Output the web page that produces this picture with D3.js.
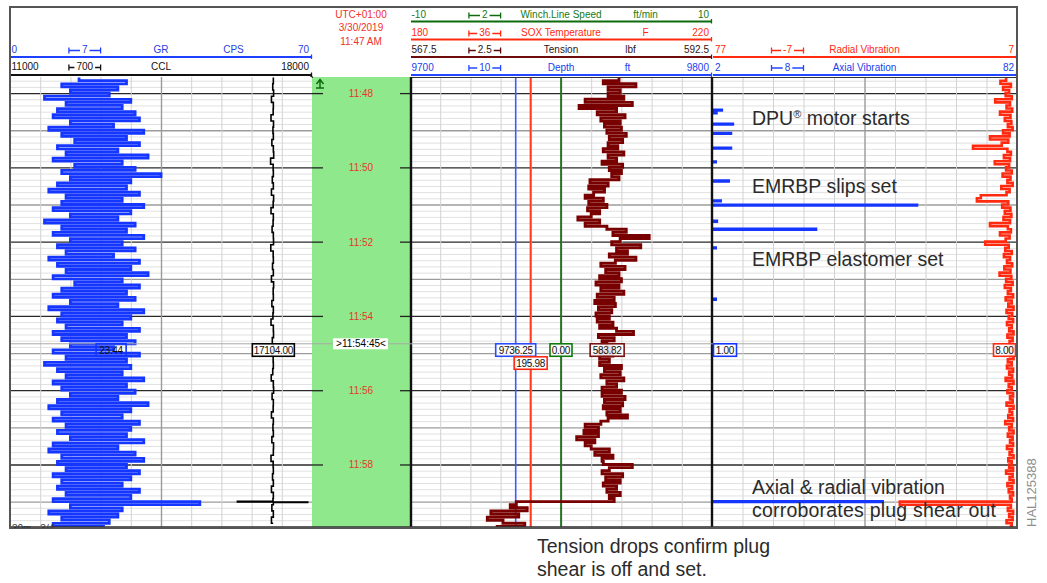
<!DOCTYPE html>
<html><head><meta charset="utf-8">
<script src="https://cdn.jsdelivr.net/npm/d3@7"></script>
<style>
body{margin:0;background:#fff;}
svg text{font-family:"Liberation Sans",Arial,sans-serif;}
</style></head><body>
<svg id="c" width="1047" height="583"></svg>
<script>
// ================= DATA =================
const LOG_START = [2019, 2, 30, 11, 47, 0];    // 3/30/2019 11:47:00
const VIEW_SECONDS = [34, 761];                // visible window (s after 11:47:00)
const SAMPLE_START_S = 35, SAMPLE_STEP_S = 5;  // GR / tension / radial sampling

const CURVE_NAMES  = ["GR","CCL","Winch.Line Speed","SOX Temperature","Tension","Depth","Radial Vibration","Axial Vibration"];
const CURVE_UNITS  = ["CPS","","ft/min","F","lbf","ft","",""];
const CURVE_LEFT   = ["0","11000","-10","180","567.5","9700","77","2"];
const CURVE_RIGHT  = ["70","18000","10","220","592.5","9800","7","82"];
const CURVE_DIV    = ["7","700","2","36","2.5","10","-7","8"];
const HEADER_TIME  = ["UTC+01:00","3/30/2019","11:47 AM"];

const GR_CPS = [
16,27,12,25,14,23,8,28,13,26,11,29,
10,30,14,24,9,31,12,27,15,30,11,25,
13,32,10,26,15,29,12,35,14,28,11,27,
9,30,13,26,12,31,10,28,14,25,8,29,
12,27,10,31,14,26,11,29,13,24,9,30,
11,28,13,32,10,26,15,30,12,27,10,29,
14,25,9,31,12,28,11,26,13,30,10,27,
12,29,14,24,10,30,13,27,8,28,11,26,
13,31,10,27,12,29,14,25,11,32,9,28,
12,26,10,30,13,28,11,27,14,31,10,25,
9,29,12,31,11,27,13,30,10,28,12,26,
11,30,13,28,10,44,14,26,9,25,12,23,
10,22];

const TENSION_LBF = [
584.8,583.5,586.2,583.9,584.9, 583.9,585.2,
582.0,585.9,581.5,584.6,583.0, 585.3,583.3,584.9,583.6,585.0,
583.8,585.4,584.0,585.1,583.9,584.7, 583.5,585.2,583.9,584.6,583.4,585.1,
584.0,585.0,584.2,584.8, 582.4,583.9,582.3,583.6,582.7,
582.0,583.5,582.3,583.8,582.2,583.2,582.5, 581.4,583.2,582.0,
583.8,585.4,584.3,587.3,584.9, 584.2,586.6,584.6,585.5,584.0,586.2,584.5,
583.3,585.3,583.7,584.8,583.2,585.0, 582.9,584.8,583.3,585.2,583.0,584.4,
582.8,584.5,583.1,584.2,582.9,584.0, 583.0,584.3,583.2,584.6,586.0,
583.1,584.4,583.4,583.8,584.3, 583.0,584.3,583.2,584.0,
583.2,585.0,583.6,584.9,583.3,585.2,583.8,584.6,583.4,585.0,
583.4,585.3,583.6,585.1,583.5,584.9,583.8,585.5,583.9,
583.3,582.0,583.1, 581.9,583.1,581.3,582.8,582.0,
582.5,584.0,582.8,584.3,583.4, 583.5,585.9,584.0,
583.4,585.1,583.7,584.9,583.5,584.6, 583.8,584.9,584.0,584.4,
576.3,
575.8,577.2,574.2,576.5,573.9,575.2,577.0,574.6];

const RADIAL_VIB = [
9.5,10.8,8.4,10.2,8.8,9.6,8.2,12.0,8.6,9.4,
8.1,10.9,8.5,9.8,8.3,9.1,8.0,10.2,8.7,13.2,
9.0,10.5,17.1,9.2,8.4,10.0,8.6,12.1,8.8,9.5,
8.2,10.3,8.5,9.2,8.0,10.6,8.7,9.4,15.3,16.2,
9.0,10.4,8.5,9.8,8.3,10.1,8.6,13.2,9.1,8.4,
10.9,8.7,9.6,14.3,8.9,9.7,8.2,10.0,8.6,9.3,
8.1,9.9,8.5,11.0,8.3,9.5,8.0,9.8,8.4,9.1,
7.9,9.6,8.2,9.0,7.8,9.4,8.1,8.9,7.9,9.3,
8.2,8.8,7.8,9.2,8.0,8.7,8.0,9.0,7.9,8.6,
7.8,9.1,8.2,9.3,7.9,8.8,8.1,9.6,7.8,8.9,
8.2,9.2,7.9,8.6,8.0,9.4,7.8,8.7,8.1,9.0,
7.9,9.7,8.2,8.8,7.8,9.1,8.0,8.6,7.9,9.3,
8.1,8.7,7.8,9.0,8.2,8.8,7.9,9.5,8.0,8.7,
7.8,9.2,8.1,8.9,7.9,8.6,8.2,33.9,8.4,9.1,
7.9,8.8,8.0,9.4,8.2,8.7];

const CCL_STEP_S = 10;   // CCL sampled every 10 s from 35 s
const CCL_VALUES = [
17104,17090,17110,17060,17104,17100,17050,17108,17095,17104,
17070,17104,17112,17040,17100,17104,17080,17104,17060,17110,
17100,17050,17104,17098,17075,17104,17108,17045,17100,17104,
17085,17104,17060,17110,17100,17104,17070,17104,17095,17050,
17104,17108,17080,17104,17065,17100,17104,17090,17055,17104,
17110,17075,17104,17100,17060,17104,17095,17104,17070,17108,
17104,17050,17100,17104,17085,17104,17060,17104,17095,17070,
17104,17060,17100];
const CCL_SPIKE = [[719.5,16270],[720.5,17900],[721.5,17104]];

const AXIAL_BASE = 1.0;
const AXIAL_EVENTS = [[87.5,4.6],[92,3.2],[110,7.5],[125,7.0],[149,7.0],[171,3.0],[202,6.4],
  [234,4.3],[241,55.8],[267,3.3],[280,29.3],[310,3.0],[393,3.0],[720,46.8]];

const DEPTH_FT = 9735.0, SOX_TEMP_F = 195.98, WINCH_SPEED_FTMIN = 0.0;

const READOUT_S = 465;  // 11:54:45
const READOUT_TEXT = ["23.44","17104.00","0.00","195.98","583.82","9736.25","8.00","1.00"];
const READOUT_VAL  = [23.44, 17104.0, 0.0, 195.98, 583.82, DEPTH_FT, 8.0, 1.0];

const NOTES = ["DPU","motor starts","EMRBP slips set","EMRBP elastomer set","Axial & radial vibration","corroborates plug shear out"];
const CAPTION = ["Tension drops confirm plug","shear is off and set."];
const FIG_ID = "HAL125388";

// ================= LAYOUT =================
const svg = d3.select("#c");
const TOP = 77, BOT = 527;
const TR = [{x0:10,x1:312},{x0:312,x1:410},{x0:410,x1:712},{x0:712,x1:1017}];
const base = new Date(...LOG_START);
const T = s => new Date(base.getTime() + s*1000);
const y = d3.scaleTime().domain(VIEW_SECONDS.map(T)).range([TOP, BOT]);

const dom = i => [+CURVE_LEFT[i], +CURVE_RIGHT[i]];
const xGR = d3.scaleLinear(dom(0), [TR[0].x0, TR[0].x1]);
const xCCL = d3.scaleLinear(dom(1), [TR[0].x0, TR[0].x1]);
const xSpd = d3.scaleLinear(dom(2), [TR[2].x0, TR[2].x1]);
const xTmp = d3.scaleLinear(dom(3), [TR[2].x0, TR[2].x1]);
const xTen = d3.scaleLinear(dom(4), [TR[2].x0, TR[2].x1]);
const xDep = d3.scaleLinear(dom(5), [TR[2].x0, TR[2].x1]);
const xRad = d3.scaleLinear(dom(6), [TR[3].x0, TR[3].x1]);
const xAx  = d3.scaleLinear(dom(7), [TR[3].x0, TR[3].x1]);
const SCALES = [xGR,xCCL,xSpd,xTmp,xTen,xDep,xRad,xAx];

// clip paths
const defs = svg.append("defs");
[[0,TR[0].x0,TR[0].x1],[2,TR[2].x0,TR[2].x1],[3,TR[3].x0+1,TR[3].x1-1]].forEach(([k,a,b])=>{
  defs.append("clipPath").attr("id","clip"+k).append("rect")
    .attr("x",a).attr("y",TOP).attr("width",b-a).attr("height",BOT-TOP);
});
defs.append("clipPath").attr("id","clipAll").append("rect").attr("x",0).attr("y",0).attr("width",1047).attr("height",528);

// ---------- grids ----------
[0,2,3].forEach(k=>{
  const t = TR[k], w = t.x1 - t.x0;
  const g = svg.append("g").attr("transform",`translate(${t.x0},0)`);
  g.call(d3.axisLeft(y).ticks(d3.timeSecond.every(10)).tickSize(-w).tickFormat(""));
  g.select(".domain").remove();
  g.selectAll(".tick line").each(function(d){
    const m = d.getMinutes(), s = d.getSeconds();
    const sel = d3.select(this);
    if (s===0 && m%2===0) sel.attr("stroke","#2a2a2a").attr("stroke-width",1.3);
    else if (s===0) sel.attr("stroke","#9c9c9c").attr("stroke-width",1.3);
    else sel.attr("stroke","#e1e1e1").attr("stroke-width",1);
  });
  const xs = d3.scaleLinear([0,10],[t.x0,t.x1]);
  const gv = svg.append("g").attr("transform",`translate(0,${TOP})`);
  gv.call(d3.axisTop(xs).tickValues(d3.range(1,10)).tickSize(-(BOT-TOP)).tickFormat(""));
  gv.select(".domain").remove();
  gv.selectAll(".tick line").attr("stroke",d=>d===5?"#9a9a9a":"#d2d2d2").attr("stroke-width",d=>d===5?1.4:1);
});

// ---------- time track ----------
svg.append("rect").attr("x",TR[1].x0).attr("y",TOP).attr("width",TR[1].x1-TR[1].x0).attr("height",BOT-TOP).attr("fill","#8fe98c");
const gt = svg.append("g").attr("transform",`translate(${TR[1].x0},0)`);
gt.call(d3.axisRight(y).ticks(d3.timeMinute.every(2)).tickFormat(d3.timeFormat("%H:%M")).tickSize(11));
gt.select(".domain").remove();
gt.selectAll(".tick line").attr("stroke","#222").attr("stroke-width",1.3);
gt.selectAll(".tick text").attr("x",(TR[1].x1-TR[1].x0)/2).attr("dy","0.35em").attr("text-anchor","middle")
  .attr("fill","#e8352a").attr("font-size",10).attr("font-family","Liberation Sans, Arial");
const gt2 = svg.append("g").attr("transform",`translate(${TR[1].x1},0)`);
gt2.call(d3.axisLeft(y).ticks(d3.timeMinute.every(2)).tickFormat("").tickSize(10));
gt2.select(".domain").remove();
gt2.selectAll(".tick line").attr("stroke","#222").attr("stroke-width",1.3);

// ---------- curves ----------
const sampled = vals => vals.map((v,i)=>({t:T(SAMPLE_START_S + i*SAMPLE_STEP_S), v}));
function curve(data, xs, color, width, clip, c){
  svg.append("path").datum(data).attr("clip-path",`url(#clip${clip})`)
    .attr("fill","none").attr("stroke",color).attr("stroke-width",width).attr("stroke-linejoin","miter")
    .attr("d", d3.line().x(d=>xs(d.v)).y(d=>y(d.t)).curve(c||d3.curveStepBefore));
}
const constant = v => [{t:T(VIEW_SECONDS[0]),v},{t:T(VIEW_SECONDS[1]),v}];

// track 1
curve(sampled(GR_CPS), xGR, "#1436ff", 2.8, 0);
const cclData = CCL_VALUES.map((v,i)=>[SAMPLE_START_S + i*CCL_STEP_S, v]).concat(CCL_SPIKE)
  .sort((a,b)=>a[0]-b[0]).map(([s,v])=>({t:T(s),v}));
curve(cclData, xCCL, "#000", 1.6, 0);

// track 3
curve(constant(DEPTH_FT), xDep, "#3a5cff", 1.6, 2, d3.curveLinear);
curve(constant(SOX_TEMP_F), xTmp, "#ff3a1a", 2, 2, d3.curveLinear);
curve(constant(WINCH_SPEED_FTMIN), xSpd, "#0b6b0b", 1.6, 2, d3.curveLinear);
curve(sampled(TENSION_LBF), xTen, "#780000", 2.9, 2);

// track 4
curve(sampled(RADIAL_VIB), xRad, "#ff2a10", 2.6, 3);
const axData = [[VIEW_SECONDS[0],AXIAL_BASE]];
AXIAL_EVENTS.forEach(([s,v])=>{ axData.push([s-0.75,v]); axData.push([s+0.75,AXIAL_BASE]); });
axData.push([VIEW_SECONDS[1],AXIAL_BASE]);
curve(axData.map(([s,v])=>({t:T(s),v})), xAx, "#1436ff", 2.4, 3);

// ---------- borders ----------
svg.append("line").attr("x1",TR[2].x0).attr("x2",TR[3].x1).attr("y1",TOP+0.5).attr("y2",TOP+0.5).attr("stroke","#333").attr("stroke-width",1);
[TR[2].x0+1, TR[3].x0].forEach(x=>svg.append("line").attr("x1",x).attr("x2",x).attr("y1",TOP).attr("y2",BOT+1)
  .attr("stroke","#111").attr("stroke-width",2.4));
svg.append("line").attr("x1",TR[0].x0).attr("x2",TR[3].x1).attr("y1",BOT).attr("y2",BOT).attr("stroke","#333").attr("stroke-width",1.5);

// ---------- readout ----------
const yr = y(T(READOUT_S));
svg.append("line").attr("x1",TR[0].x0).attr("x2",TR[3].x1).attr("y1",yr).attr("y2",yr).attr("stroke","#a9a9a9").attr("stroke-width",1);
const tb = svg.append("g");
tb.append("rect").attr("x",333).attr("y",yr-5.5).attr("width",55).attr("height",11).attr("fill","#fff");
tb.append("text").attr("x",(TR[1].x0+TR[1].x1)/2).attr("y",yr+3.5).attr("text-anchor","middle").attr("font-size",10).attr("fill","#000")
  .text(">" + d3.timeFormat("%H:%M:%S")(T(READOUT_S)) + "<");

const RB = [ // curve index, color, box width, y offset, track
  [0,"#1436ff",30,0,0],[1,"#000",42,0,0],[5,"#2a4cff",40,0,2],[3,"#ff2a10",33,13,2],
  [2,"#0b7a0b",22,0,2],[4,"#7a1010",34,0,2],[7,"#1436ff",23,0,3],[6,"#ff2a10",22,0,3]];
RB.forEach(([i,col,w,dy,k])=>{
  let cx = SCALES[i](READOUT_VAL[i]);
  cx = Math.max(TR[k].x0 + 1.5 + w/2, Math.min(TR[k].x1 - 1.5 - w/2, cx));
  const g = svg.append("g");
  g.append("rect").attr("x",cx-w/2).attr("y",yr+dy).attr("width",w).attr("height",12.5)
    .attr("fill","#fff").attr("fill-opacity",i===0?0:0.85).attr("stroke",col).attr("stroke-width",1.6);
  g.append("text").attr("x",cx).attr("y",yr+dy+10).attr("text-anchor","middle").attr("font-size",10)
    .attr("fill","#111").attr("letter-spacing",-0.3).text(READOUT_TEXT[i]);
});

// ---------- headers ----------
const ROWS = [
  {i:0,k:0,base:53,line:57,col:"#1f40ff",txt:"#2a3fe0",u:0.74},
  {i:1,k:0,base:70,line:75,col:"#111",txt:"#111",u:0},
  {i:2,k:2,base:18,line:21.5,col:"#0c6b0c",txt:"#167a16",u:0.78},
  {i:3,k:2,base:36,line:39.5,col:"#ff2a10",txt:"#ff2a10",u:0.78},
  {i:4,k:2,base:53,line:57,col:"#6e0b0b",txt:"#2e1515",u:0.73},
  {i:5,k:2,base:70.5,line:75,col:"#2448ff",txt:"#2040ee",u:0.72},
  {i:6,k:3,base:53,line:57,col:"#ff2a10",txt:"#ff2a10",u:0},
  {i:7,k:3,base:70.5,line:75,col:"#2448ff",txt:"#2040ee",u:0}];
ROWS.forEach(r=>{
  const t = TR[r.k], w = t.x1 - t.x0;
  const g = svg.append("g").attr("font-size",10).attr("fill",r.txt);
  g.append("line").attr("x1",t.x0+1).attr("x2",t.x1).attr("y1",r.line).attr("y2",r.line).attr("stroke",r.col).attr("stroke-width",2.2);
  g.append("line").attr("x1",t.x1-0.5).attr("x2",t.x1-0.5).attr("y1",r.line-2.5).attr("y2",r.line+2).attr("stroke",r.col).attr("stroke-width",1.3);
  g.append("text").attr("x",t.x0+(r.k===3?3:1.5)).attr("y",r.base).text(CURVE_LEFT[r.i]);
  g.append("text").attr("x",t.x1-3).attr("y",r.base).attr("text-anchor","end").text(CURVE_RIGHT[r.i]);
  g.append("text").attr("x",(t.x0+t.x1)/2).attr("y",r.base).attr("text-anchor","middle").text(CURVE_NAMES[r.i]);
  if (CURVE_UNITS[r.i]) g.append("text").attr("x",t.x0+r.u*w).attr("y",r.base).attr("text-anchor","middle").text(CURVE_UNITS[r.i]);
  // division icon |-n-|
  const a = t.x0 + 0.2*w - 1.5, b = t.x0 + 0.3*w, cx = (a+b)/2, ly = r.base - 2.5;
  const dt = g.append("text").attr("x",cx).attr("y",r.base).attr("text-anchor","middle").text(CURVE_DIV[r.i]);
  const hw = dt.node().getComputedTextLength()/2 + 2;
  const ic = r.i===4 ? "#5a0a0a" : r.col;
  g.append("path").attr("fill","none").attr("stroke",ic).attr("stroke-width",1.3)
    .attr("d",`M${a},${ly-3}V${ly+3}M${a},${ly}H${cx-hw}M${cx+hw},${ly}H${b}M${b},${ly-3}V${ly+3}`);
});
// time header
HEADER_TIME.forEach((s,j)=>svg.append("text").attr("x",(TR[1].x0+TR[1].x1)/2).attr("y",18+j*13.3)
  .attr("text-anchor","middle").attr("font-size",10).attr("fill","#f0302a").text(s));
svg.append("path").attr("fill","none").attr("stroke","#111").attr("stroke-width",1.2).attr("d","M310,75.5L313,77.5");
svg.append("path").attr("fill","none").attr("stroke","#0d6a0d").attr("stroke-width",1.5)
  .attr("d","M320,88V80M316.5,84L320,79.5L323.5,84M316,88H324");

// outer frame
svg.append("rect").attr("x",10).attr("y",7).attr("width",1007).attr("height",521).attr("fill","none").attr("stroke","#555").attr("stroke-width",2);
// cut-off footer label
svg.append("text").attr("clip-path","url(#clipAll)").attr("x",12).attr("y",532).attr("font-size",10).attr("fill","#333").text("30m - 3/4");

// ---------- annotations ----------
const an = svg.append("g").attr("font-size",19.5).attr("fill","#2b2b2b");
const t0 = an.append("text").attr("x",752).attr("y",125);
t0.append("tspan").text(NOTES[0]);
t0.append("tspan").attr("font-size",11).attr("dy",-7).text("®");
t0.append("tspan").attr("dy",7).text(" " + NOTES[1]);
an.append("text").attr("x",752).attr("y",193).text(NOTES[2]);
an.append("text").attr("x",752).attr("y",266).text(NOTES[3]);
an.append("text").attr("x",752).attr("y",494).text(NOTES[4]);
an.append("text").attr("x",752).attr("y",517).attr("textLength",244).text(NOTES[5]);
an.append("text").attr("x",537).attr("y",553).text(CAPTION[0]);
an.append("text").attr("x",537).attr("y",576).text(CAPTION[1]);
svg.append("text").attr("transform","translate(1036,527) rotate(-90)").attr("font-size",13).attr("fill","#8e8e8e").text(FIG_ID);
</script>
</body></html>
